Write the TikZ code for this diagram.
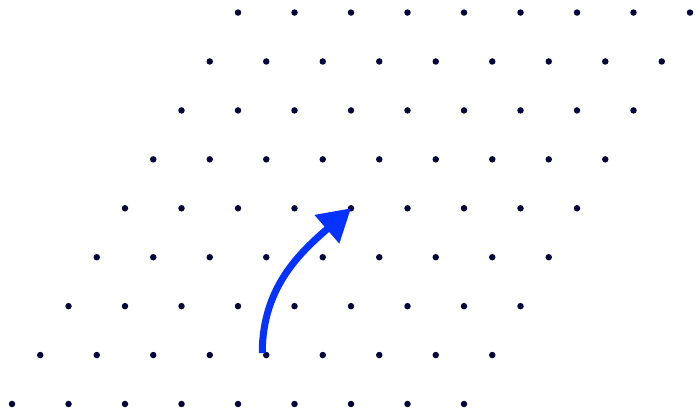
\documentclass[tikz,border=0pt]{standalone}
\usepackage{tikz}
\usetikzlibrary{arrows.meta,calc}
\definecolor{dotnavy}{RGB}{5,5,60}
\definecolor{hopblue}{RGB}{5,50,255}

\begin{document}
\begin{tikzpicture}[
    x=1pt, y=1pt,
    >={Triangle[length=32pt,width=36pt]},
    site/.style={circle, fill=dotnavy, inner sep=0pt, minimum size=6.5pt},
    hop/.style={->, line width=7pt, draw=hopblue},
  ]
  \useasboundingbox (0,0) rectangle (695,414);
  % triangular lattice sites, row j shifted by half a spacing
  \foreach \i in {0,...,8}
    \foreach \j in {0,...,8}
      \node[site] (s-\i-\j) at ({12+56.5*\i+28.25*\j},{10+48.93*\j}) {};

  % hop to a neighbouring site
  \coordinate (start) at ($(s-4-1)+(-4,2)$);
  \draw[hop] (start) to[out=90,in=221] (s-4-4.center);
\end{tikzpicture}
\end{document}
